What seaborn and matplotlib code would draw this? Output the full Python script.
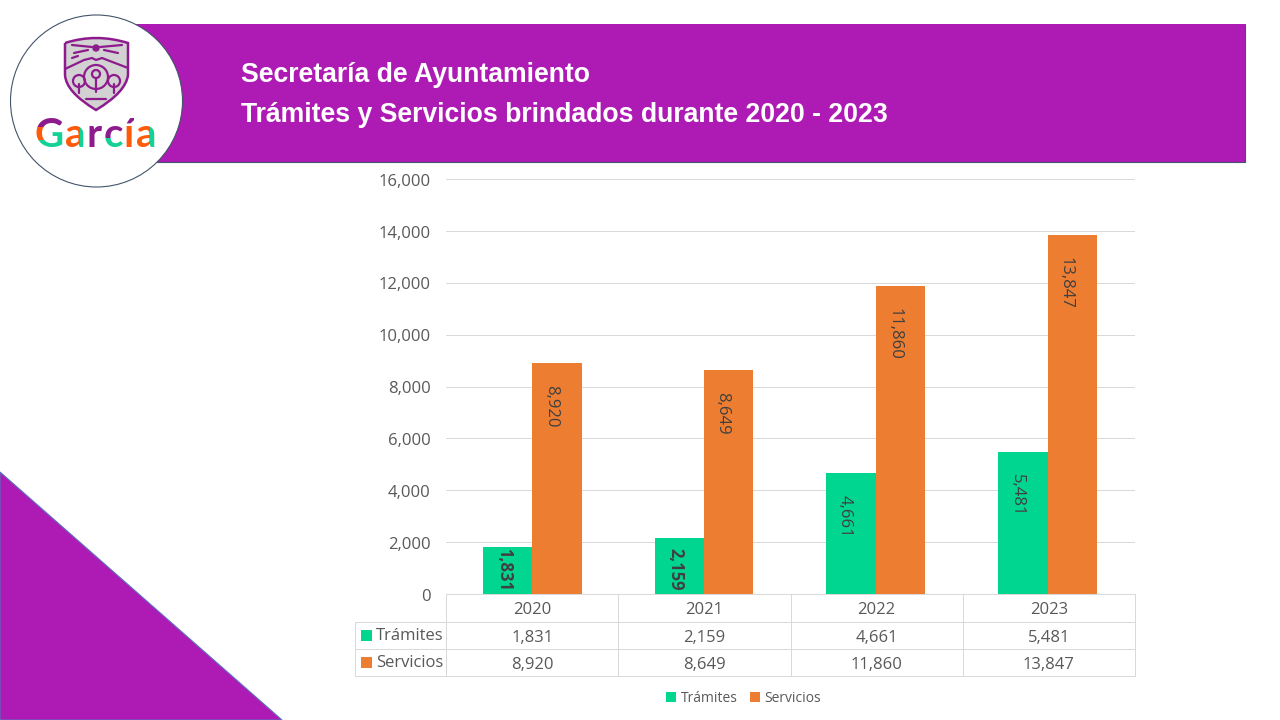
import numpy as np
import pandas as pd
import matplotlib
matplotlib.use('Agg')
import matplotlib.pyplot as plt
from matplotlib.patches import Polygon, Rectangle, Circle, PathPatch
from matplotlib.path import Path
from matplotlib.transforms import ScaledTranslation
import seaborn as sns

# Data
years = ['2020', '2021', '2022', '2023']
tramites = [1831, 2159, 4661, 5481]
servicios = [8920, 8649, 11860, 13847]
series_names = ['Trámites', 'Servicios']
title_lines = ['Secretaría de Ayuntamiento', 'Trámites y Servicios brindados durante 2020 - 2023']

PURPLE = '#AE1AB4'
GREEN = '#00D68F'
ORANGE = '#ED7D31'
EDGE = '#44546A'
GRID = '#D9D9D9'
TEXT = '#595959'
LOGO_PURPLE = '#8E1B8E'
LOGO_ORANGE = '#FF5A0A'
LOGO_GREEN = '#14D196'

sns.set_theme(style='white')
plt.rcParams['font.family'] = ['Open Sans', 'DejaVu Sans']

df = pd.DataFrame({
    'year': years * 2,
    'value': tramites + servicios,
    'serie': [series_names[0]] * 4 + [series_names[1]] * 4,
})

fig = plt.figure(figsize=(12.8, 7.2), dpi=100)

# Overlay in pixel coordinates for the slide decoration and the data table
bg = fig.add_axes([0, 0, 1, 1])
bg.set_xlim(0, 1280)
bg.set_ylim(720, 0)
bg.axis('off')

bg.add_patch(Rectangle((130, 24), 1114.5, 138, facecolor=PURPLE, edgecolor='none'))
bg.plot([1244.5, 1244.5, 130], [24, 162, 162], color=EDGE, lw=0.8)
bg.add_patch(Polygon([(0, 472), (282, 720), (0, 720)], facecolor=PURPLE, edgecolor='#5B6FC0', lw=0.8))

for line, y in zip(title_lines, [74.5, 114.5]):
    bg.text(241, y, line, color='white', fontsize=19.2, fontweight='bold',
            family='Liberation Sans', va='center', ha='left')

# Round logo
bg.add_patch(Circle((96.5, 101), 86, facecolor='white', edgecolor=EDGE, lw=0.8, zorder=3))
shield = Path(
    [(65, 43), (96, 33), (128, 43), (128, 75), (126, 92), (96, 110), (66, 92), (65, 75), (65, 43)],
    [Path.MOVETO, Path.CURVE3, Path.CURVE3, Path.LINETO, Path.CURVE3, Path.CURVE3,
     Path.CURVE3, Path.CURVE3, Path.LINETO],
)
bg.add_patch(PathPatch(shield, facecolor='#D2D2D2', edgecolor=LOGO_PURPLE, lw=1.8, zorder=4))
bg.add_patch(Circle((96, 48), 3, color=LOGO_PURPLE, zorder=5))
for xs, ys in [([72, 92], [45, 47]), ([100, 122], [47, 45]), ([74, 88], [53, 50]), ([104, 118], [50, 53]),
               ([72, 78], [58, 56]), ([65, 84, 92, 96, 102, 128], [69, 60, 58, 60, 58, 68]),
               ([86, 106], [99, 99])]:
    bg.plot(xs, ys, color=LOGO_PURPLE, lw=1.6, zorder=5, solid_capstyle='round')
for cx, cy, r in [(96, 77, 12), (96, 74, 4), (79, 81, 6), (114, 81, 6)]:
    bg.add_patch(Circle((cx, cy), r, facecolor='none', edgecolor=LOGO_PURPLE, lw=1.6, zorder=5))
for cx, top, bottom in [(96, 78, 92), (79, 84, 93), (114, 84, 93)]:
    bg.plot([cx, cx], [top, bottom], color=LOGO_PURPLE, lw=1.6, zorder=5)

# Each logo letter is drawn once per colour, clipped to a part of the letter
letters = [
    ('G', 49, [(LOGO_PURPLE, 36, 64, 110, 127), (LOGO_ORANGE, 30, 44, 127, 140), (LOGO_GREEN, 44, 64, 127, 150), (LOGO_GREEN, 30, 44, 140, 150)]),
    ('a', 75, [(LOGO_ORANGE, 60, 80, 110, 150), (LOGO_GREEN, 80, 90, 110, 150)]),
    ('r', 94, [(LOGO_PURPLE, 86, 102, 110, 150)]),
    ('c', 113, [(LOGO_PURPLE, 102, 124, 110, 138), (LOGO_GREEN, 102, 124, 138, 150)]),
    ('í', 129, [(LOGO_ORANGE, 124, 134, 124, 150), (LOGO_PURPLE, 124, 134, 110, 124)]),
    ('a', 146, [(LOGO_ORANGE, 133, 150, 110, 150), (LOGO_GREEN, 150, 160, 110, 150)]),
]
for letter, x, parts in letters:
    for color, x0, x1, y0, y1 in parts:
        clip = Rectangle((x0, y0), x1 - x0, y1 - y0, transform=bg.transData)
        t = bg.text(x, 147, letter, color=color, fontsize=29, fontweight='bold', family='Lato',
                    ha='center', va='baseline', zorder=6)
        t.set_clip_path(clip)
        t.set_clip_on(True)

# Chart
ax = fig.add_axes([446 / 1280, (720 - 594) / 720, 689 / 1280, 415 / 720])
ax.patch.set_alpha(0)
sns.barplot(data=df, x='year', y='value', hue='serie', order=years, hue_order=series_names,
            palette=[GREEN, ORANGE], width=0.575, gap=0, saturation=1, errorbar=None,
            linewidth=0, ax=ax, legend=False)
ax.set_xlim(-0.502, 3.509)
ax.set_ylim(0, 16000)
ax.set_yticks(np.arange(0, 16001, 2000))
ax.yaxis.set_major_formatter(lambda v, pos: f'{int(v):,}')
ax.set_xticks([])
ax.set_xlabel('')
ax.set_ylabel('')
ax.grid(axis='y', color=GRID, lw=0.72)
ax.set_axisbelow(True)
ax.tick_params(axis='y', length=0, pad=11, labelsize=12, labelcolor=TEXT)
# Tick labels sit a little lower than matplotlib centres them
nudge = ScaledTranslation(0, -0.7 / 100, fig.dpi_scale_trans)
for label in ax.get_yticklabels():
    label.set_transform(label.get_transform() + nudge)
sns.despine(ax=ax, left=True, bottom=True)

# Rotated labels inside the top of each bar, pushed up when the bar is short
px_per_unit = 415 / 16000
for container, values in zip(ax.containers, [tramites, servicios]):
    for patch, value in zip(container, values):
        offset_px = min(22, max(0, value * px_per_unit - 46))
        short_bar = offset_px < 15
        ax.annotate(f'{value:,}', (patch.get_x() + patch.get_width() / 2, value),
                    xytext=(-2.5 if short_bar else -4.5, -offset_px * 0.72), textcoords='offset points',
                    rotation=270, ha='center', va='top', fontsize=12, color='#404040',
                    fontweight='bold' if short_bar else 'normal')

# Data table under the plot
left, right, col_w = 446, 1135, 689 / 4
rows = [594, 622, 649, 676]
label_left = 355
bg.plot([left, right], [rows[0], rows[0]], color=GRID, lw=0.72)
for y in rows[1:]:
    bg.plot([label_left, right], [y, y], color=GRID, lw=0.72)
bg.plot([label_left, label_left], [rows[1], rows[3]], color=GRID, lw=0.72)
for i in range(5):
    x = left + i * col_w
    bg.plot([x, x], [rows[0], rows[3]], color=GRID, lw=0.72)
for i, year in enumerate(years):
    x = left + (i + 0.5) * col_w
    bg.text(x, 610, year, ha='center', va='center', fontsize=12, color=TEXT)
    bg.text(x, 638, f'{tramites[i]:,}', ha='center', va='center', fontsize=12, color=TEXT)
    bg.text(x, 665, f'{servicios[i]:,}', ha='center', va='center', fontsize=12, color=TEXT)
for name, color, y in zip(series_names, [GREEN, ORANGE], [635.5, 662.5]):
    bg.add_patch(Rectangle((361, y - 5.5), 11, 11, facecolor=color, edgecolor='none'))
    bg.text(376, y + 0.5, name, ha='left', va='center', fontsize=12, color=TEXT)

# Legend at the bottom
handles = [Rectangle((0, 0), 1, 1, facecolor=c, edgecolor='none') for c in [GREEN, ORANGE]]
fig.legend(handles, series_names, loc='center', bbox_to_anchor=(743.5 / 1280, (720 - 698.5) / 720), ncol=2,
           frameon=False, fontsize=10, labelcolor=TEXT, handlelength=0.75, handleheight=0.75,
           handletextpad=0.3, columnspacing=0.9)

fig.savefig('out.png', dpi=100)
